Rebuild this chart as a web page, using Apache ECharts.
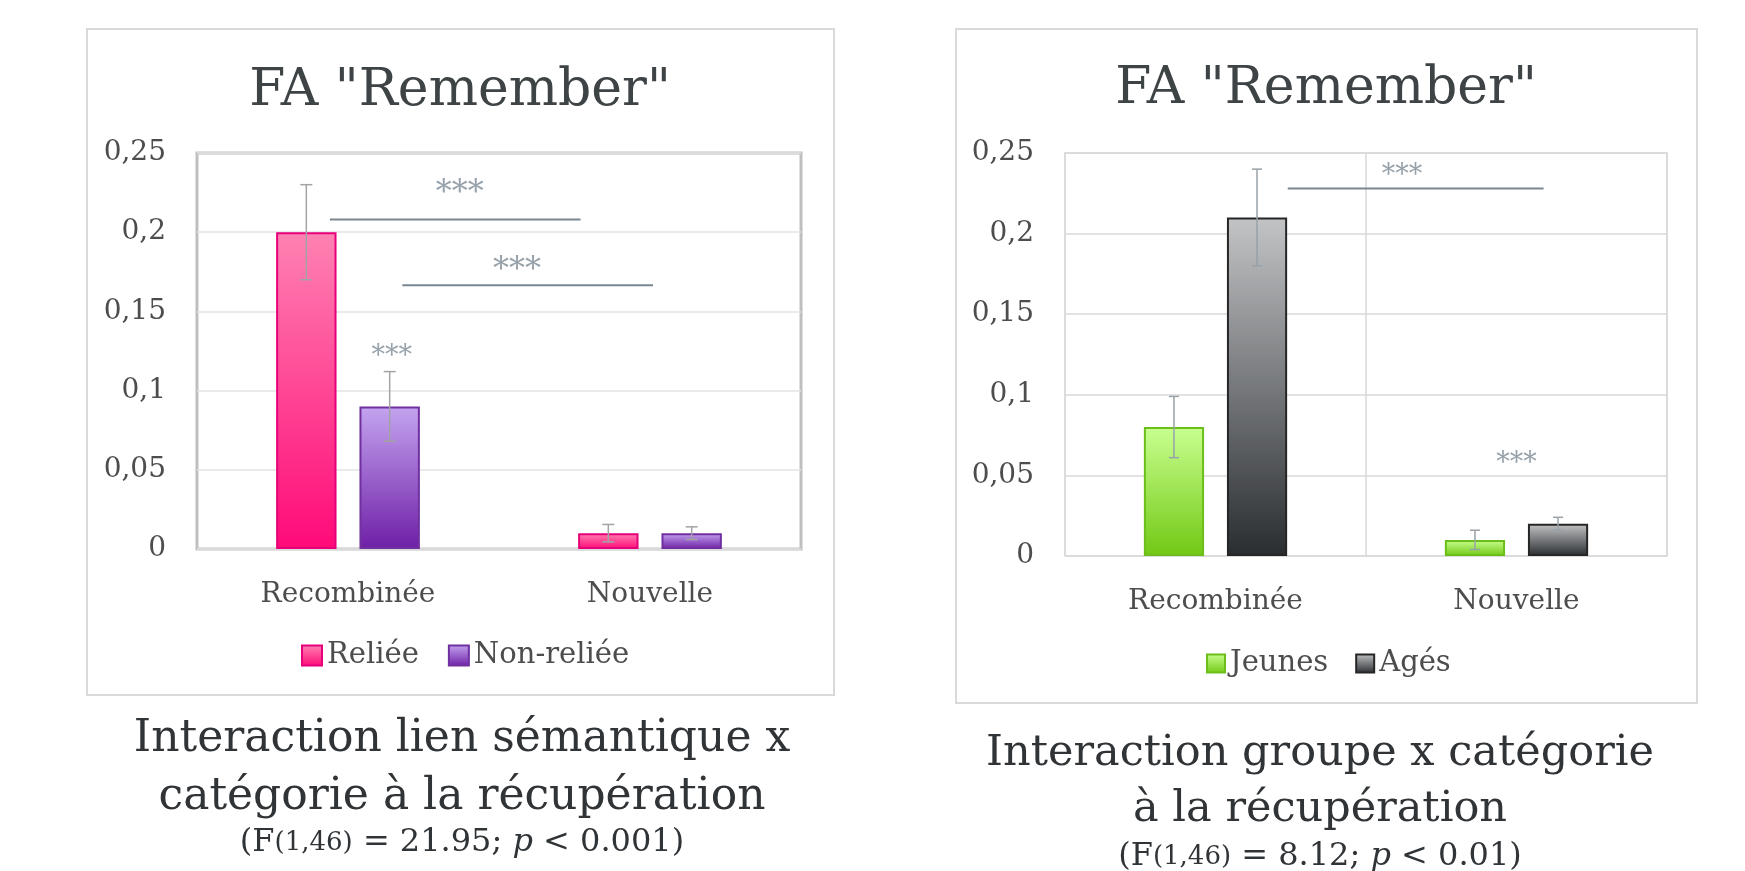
<!DOCTYPE html>
<html>
<head>
<meta charset="utf-8">
<script src="https://cdn.jsdelivr.net/npm/echarts@6/dist/echarts.min.js"></script>
<style>
  html, body { margin: 0; padding: 0; background: #fff; }
  #chart { width: 1745px; height: 871px; }
</style>
</head>
<body>
<div id="chart"></div>
<script>
// data
const categories = ['Recombinée', 'Nouvelle'];
const yTickLabels = ['0', '0,05', '0,1', '0,15', '0,2', '0,25'];

const reliee = [0.2, 0.01];
const relieeErr = [0.03, 0.0055];
const nonReliee = [0.09, 0.01];
const nonRelieeErr = [0.022, 0.004];

const jeunes = [0.08, 0.01];
const jeunesErr = [0.019, 0.006];
const ages = [0.21, 0.02];
const agesErr = [0.03, 0.004];

// significance marks: [xFrom, xTo, y] with x in category index units
const sigLinesLeft = [[-0.06, 0.77, 0.208], [0.18, 1.01, 0.1665]];
const sigStarsLeft = [[0.37, 0.224, 32], [0.56, 0.176, 32], [0.145, 0.121, 27]];
const sigLinesRight = [[0.24, 1.09, 0.228]];
const sigStarsRight = [[0.62, 0.236, 27], [1.0, 0.057, 27]];

const FONT = '"DejaVu Serif", "Liberation Serif", serif';
const BAR_W = 0.2, BAR_GAP = 0.38;

function grad(top, bottom) {
    return new echarts.graphic.LinearGradient(0, 0, 0, 1, [
        { offset: 0, color: top }, { offset: 1, color: bottom }
    ]);
}

function errSeries(name, vals, errs, sign, xi, yi, color, cap) {
    return {
        type: 'custom', name: name, xAxisIndex: xi, yAxisIndex: yi, z: 5,
        data: vals.map((v, i) => [i, v, errs[i]]),
        encode: { x: 0, y: 1 },
        renderItem: function (params, api) {
            const idx = api.value(0);
            const band = api.size([1, 0])[0];
            const bw = band * BAR_W;
            const off = sign * (bw + bw * BAR_GAP) / 2;
            const hi = api.coord([idx, api.value(1) + api.value(2)]);
            const lo = api.coord([idx, api.value(1) - api.value(2)]);
            const x = hi[0] + off;
            const st = { stroke: color, lineWidth: 1.5 };
            return {
                type: 'group', children: [
                    { type: 'line', shape: { x1: x, y1: hi[1], x2: x, y2: lo[1] }, style: st },
                    { type: 'line', shape: { x1: x - cap / 2, y1: hi[1], x2: x + cap / 2, y2: hi[1] }, style: st },
                    { type: 'line', shape: { x1: x - cap / 2, y1: lo[1], x2: x + cap / 2, y2: lo[1] }, style: st }
                ]
            };
        }
    };
}

function sigSeries(lines, stars, xi, yi) {
    const out = lines.map(l => ({
        type: 'line', xAxisIndex: xi, yAxisIndex: yi, z: 6,
        data: [[l[0], l[2]], [l[1], l[2]]],
        symbol: 'none', silent: true,
        lineStyle: { color: '#7a8791', width: 2 }
    }));
    stars.forEach(s => {
        out.push({
            type: 'scatter', xAxisIndex: xi, yAxisIndex: yi, z: 6, silent: true,
            data: [[s[0], s[1]]], symbolSize: 1,
            itemStyle: { color: 'transparent' },
            label: { show: true, position: 'inside', formatter: '***', color: '#7d8a94', fontFamily: FONT, fontSize: s[2] }
        });
    });
    return out;
}

function catAxis(gi, splitColor) {
    return {
        type: 'category', gridIndex: gi, data: categories,
        axisLine: { show: false }, axisTick: { show: false },
        axisLabel: { color: '#4d4d4d', fontFamily: FONT, fontSize: 28, margin: 32 },
        splitLine: { show: !!splitColor, lineStyle: { color: splitColor, width: 1.5 } }
    };
}
function hiddenX(gi) {
    return { type: 'value', gridIndex: gi, min: -0.5, max: 1.5, show: false };
}
function valAxis(gi, gridColor) {
    return {
        type: 'value', gridIndex: gi, min: 0, max: 0.25, interval: 0.05,
        axisLine: { show: false }, axisTick: { show: false },
        axisLabel: { color: '#4d4d4d', fontFamily: FONT, fontSize: 28, margin: 31,
            formatter: (v, i) => yTickLabels[i] },
        splitLine: { lineStyle: { color: gridColor, width: 1.5 } }
    };
}
function barSeries(name, vals, xi, yi, top, bottom, border) {
    return {
        type: 'bar', name: name, xAxisIndex: xi, yAxisIndex: yi, data: vals,
        barWidth: (BAR_W * 100) + '%', barGap: (BAR_GAP * 100) + '%',
        itemStyle: { color: grad(top, bottom), borderColor: border, borderWidth: 2 }
    };
}
function txt(x, y, text, size, color) {
    return { type: 'text', x: x, y: y, silent: true,
        style: { text: text, font: size + 'px ' + FONT, fill: color, align: 'center', verticalAlign: 'middle' } };
}
function statTxt(x, y, stat, p) {
    const c = '#303437';
    return { type: 'text', x: x, y: y, silent: true,
        style: {
            text: '{a|(F}{b|(1,46)}{a| = ' + stat + '; }{i|p}{a| < ' + p + ')}',
            align: 'center', verticalAlign: 'middle',
            rich: {
                a: { fontFamily: FONT, fontSize: 32, fill: c },
                b: { fontFamily: FONT, fontSize: 26, fill: c },
                i: { fontFamily: FONT, fontSize: 32, fill: c, fontStyle: 'italic' }
            }
        } };
}

const chart = echarts.init(document.getElementById('chart'), null, { renderer: 'canvas' });

const option = {
    animation: false,
    backgroundColor: '#ffffff',
    grid: [
        { left: 197, right: 1745 - 801, top: 153, bottom: 871 - 549, show: true,
          borderColor: '#bfbfbf', borderWidth: 3, backgroundColor: '#fff' },
        { left: 1065, right: 1745 - 1667, top: 153, bottom: 871 - 556, show: true,
          borderColor: '#d9d9d9', borderWidth: 1.5, backgroundColor: '#fff' }
    ],
    xAxis: [catAxis(0, null), hiddenX(0), catAxis(1, '#d9d9d9'), hiddenX(1)],
    yAxis: [valAxis(0, '#e3e3e3'), valAxis(1, '#d9d9d9')],
    legend: [
        { data: ['Reliée', 'Non-reliée'], left: 296, top: 636, itemWidth: 20, itemHeight: 20, itemGap: 29,
          icon: 'rect', textStyle: { fontFamily: FONT, fontSize: 29, color: '#4d4d4d' } },
        { data: ['Jeunes', 'Agés'], left: 1201, top: 644, itemWidth: 18, itemHeight: 18, itemGap: 27,
          icon: 'rect', textStyle: { fontFamily: FONT, fontSize: 29, color: '#4d4d4d' } }
    ],
    graphic: [
        { type: 'rect', z: -10, silent: true, shape: { x: 87, y: 29, width: 747, height: 666 },
          style: { fill: 'none', stroke: '#d9d9d9', lineWidth: 2 } },
        { type: 'rect', z: -10, silent: true, shape: { x: 956, y: 29, width: 741, height: 674 },
          style: { fill: 'none', stroke: '#d9d9d9', lineWidth: 2 } },
        txt(460, 91, 'FA "Remember"', 52, '#3e4346'),
        txt(1326, 89, 'FA "Remember"', 52, '#3e4346'),
        txt(462, 740, 'Interaction lien sémantique x', 44, '#303437'),
        txt(462, 798, 'catégorie à la récupération', 44, '#303437'),
        statTxt(462, 843, '21.95', '0.001'),
        txt(1320, 754, 'Interaction groupe x catégorie', 43, '#303437'),
        txt(1320, 810, 'à la récupération', 43, '#303437'),
        statTxt(1320, 857, '8.12', '0.01')
    ],
    series: [
        barSeries('Reliée', reliee, 0, 0, '#ff82b2', '#ff0a78', '#e6007a'),
        barSeries('Non-reliée', nonReliee, 0, 0, '#c4a4f0', '#6e1fa6', '#7030a0'),
        barSeries('Jeunes', jeunes, 2, 1, '#c8ff90', '#72c814', '#6cbf1a'),
        barSeries('Agés', ages, 2, 1, '#c2c4c6', '#2a2d30', '#262626'),
        errSeries('errReliee', reliee, relieeErr, -1, 0, 0, '#a3a3a3', 12),
        errSeries('errNonReliee', nonReliee, nonRelieeErr, 1, 0, 0, '#a3a3a3', 12),
        errSeries('errJeunes', jeunes, jeunesErr, -1, 2, 1, '#98a2a8', 10),
        errSeries('errAges', ages, agesErr, 1, 2, 1, '#98a2a8', 10)
    ].concat(sigSeries(sigLinesLeft, sigStarsLeft, 1, 0), sigSeries(sigLinesRight, sigStarsRight, 3, 1))
};

chart.setOption(option);
</script>
</body>
</html>
